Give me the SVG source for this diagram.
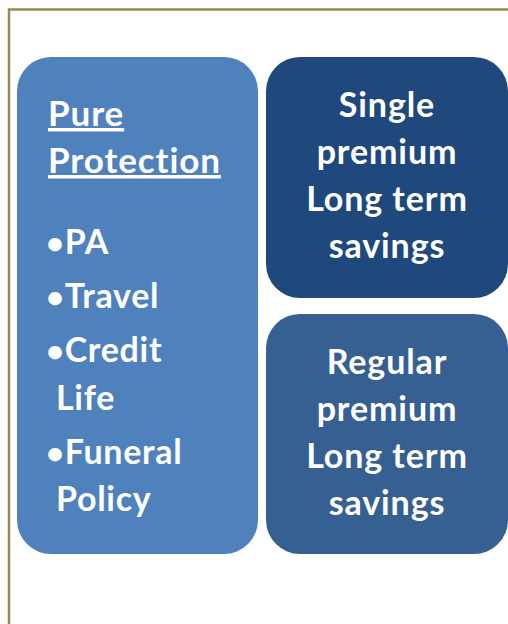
<svg xmlns="http://www.w3.org/2000/svg" width="508" height="624" viewBox="0 0 508 624">
  <style>
    .frame { fill: none; stroke: #948a54; stroke-width: 2.5; }
    .t { font-family: Lato, "Open Sans", "Liberation Sans", sans-serif; font-weight: bold; fill: #ffffff; font-variant-ligatures: none; }
    .head { font-size: 35px; letter-spacing: 0.9px; text-decoration: underline; }
    .item { font-size: 34px; letter-spacing: 0.7px; }
    .ctr { font-size: 34px; letter-spacing: 0.9px; text-anchor: middle; }
    .dot { font-size: 31px; }
  </style>
  <rect width="508" height="624" fill="#ffffff"/>
  <!-- page frame -->
  <path class="frame" d="M9,624 V9.5 H510"/>

  <g id="pure-protection">
    <rect x="17" y="57" width="241" height="497" rx="34" fill="#4f81bd"/>
    <text class="t head" x="48" y="126">Pure</text>
    <text class="t head" x="48" y="173">Protection</text>
    <text class="t item" x="46" y="254"><tspan class="dot">•</tspan>PA</text>
    <text class="t item" x="46" y="308"><tspan class="dot">•</tspan>Travel</text>
    <text class="t item" x="46" y="362"><tspan class="dot">•</tspan>Credit</text>
    <text class="t item" x="56" y="410">Life</text>
    <text class="t item" x="46" y="464"><tspan class="dot">•</tspan>Funeral</text>
    <text class="t item" x="56" y="511">Policy</text>
  </g>

  <g id="single-premium">
    <rect x="266" y="57" width="242" height="241" rx="34" fill="#1f497d"/>
    <text class="t ctr" x="387" y="117">Single</text>
    <text class="t ctr" x="387" y="164">premium</text>
    <text class="t ctr" x="387" y="211">Long term</text>
    <text class="t ctr" x="387" y="258">savings</text>
  </g>

  <g id="regular-premium">
    <rect x="266" y="314" width="242" height="240" rx="34" fill="#366092"/>
    <text class="t ctr" x="387" y="374">Regular</text>
    <text class="t ctr" x="387" y="421">premium</text>
    <text class="t ctr" x="387" y="468">Long term</text>
    <text class="t ctr" x="387" y="515">savings</text>
  </g>

  <g id="connectors"/>
</svg>
